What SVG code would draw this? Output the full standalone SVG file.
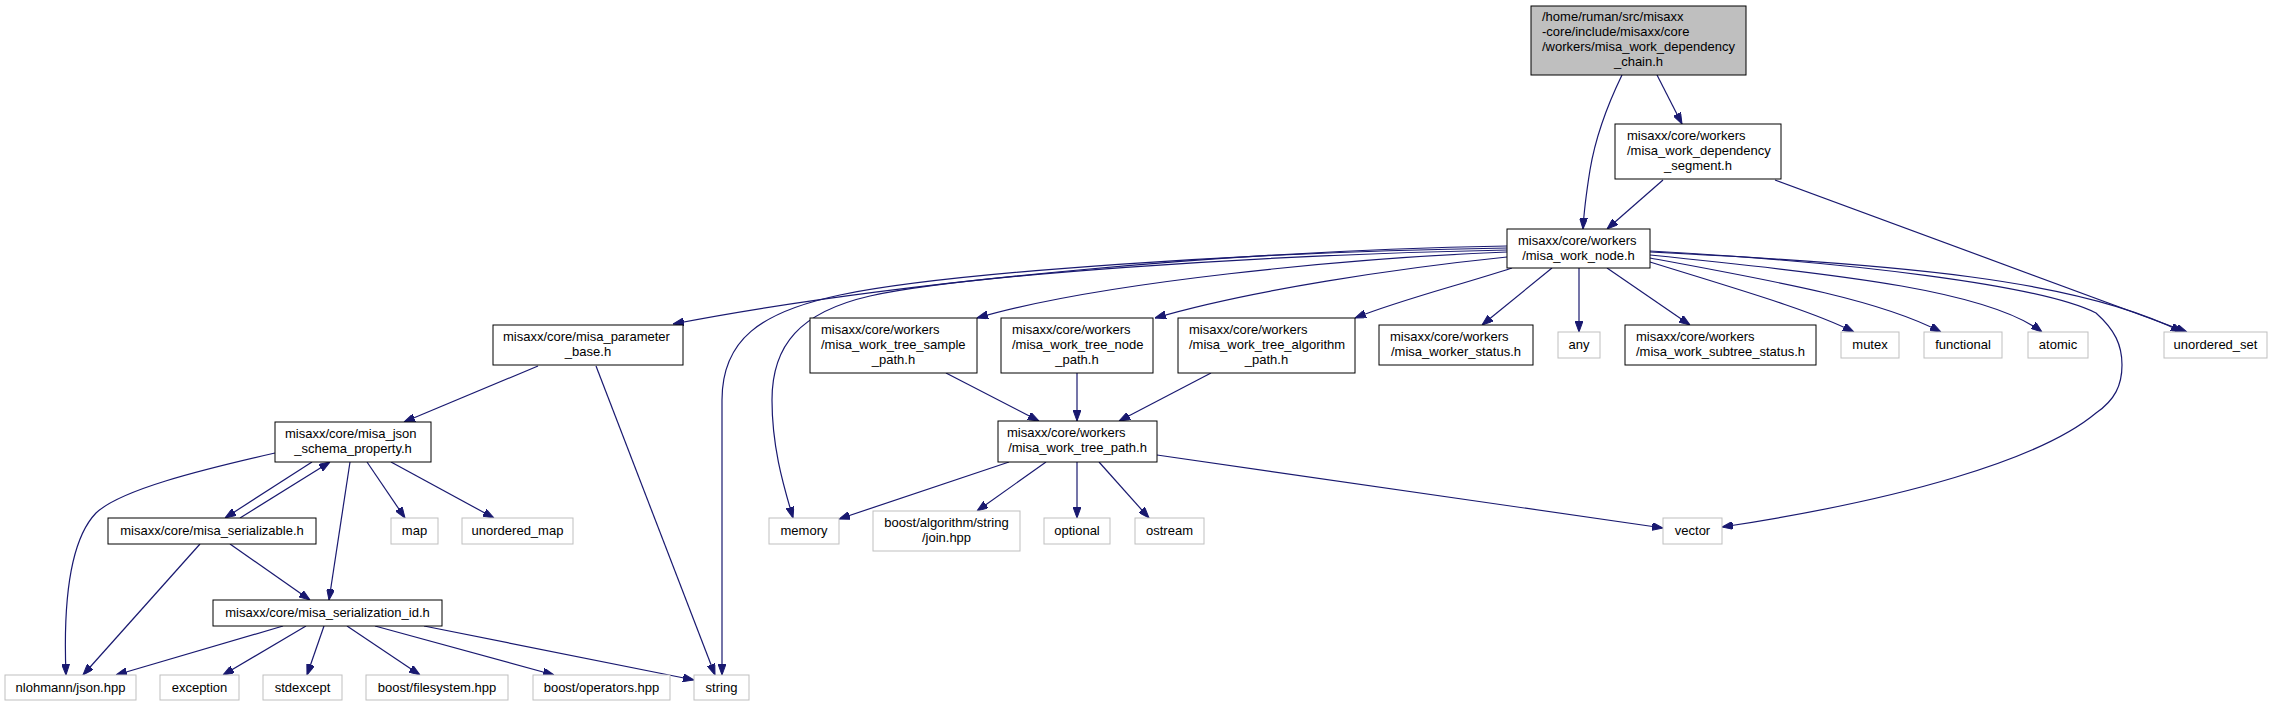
<svg xmlns="http://www.w3.org/2000/svg" width="2272" height="707" viewBox="0 0 2272 707">
<style>
text{font-family:"Liberation Sans",Arial,sans-serif;font-size:13px;fill:#000}
.c{text-anchor:middle}
.n rect{fill:#fff;stroke:#000;stroke-width:1}
.x rect{fill:#fff;stroke:#bfbfbf;stroke-width:1}
.m rect{fill:#bfbfbf;stroke:#000;stroke-width:1}
#edges path{fill:none;stroke:#191970;stroke-width:1.2;marker-end:url(#ah)}
</style>
<defs>
<marker id="ah" markerUnits="userSpaceOnUse" viewBox="0 0 11 8" refX="11" refY="4" markerWidth="11" markerHeight="8" orient="auto">
<path d="M0,0 L11,4 L0,8 z" fill="#191970" stroke="#191970"/>
</marker>
</defs>
<rect width="2272" height="707" fill="#fff"/>
<g id="edges">
<path d="M1622,75 C1605,110 1595,140 1590,170 C1586,195 1584,210 1583,229"/>
<path d="M1657,75 L1682,124"/>
<path d="M1663,180 L1607,229"/>
<path d="M1775,180 L2187,332"/>
<path d="M1507,246 C1250,250 900,280 673,324"/>
<path d="M1507,248 C1250,252 950,272 840,295 C760,312 722,340 722,400 L722,675"/>
<path d="M1507,250 C1250,255 960,276 870,296 C800,312 772,345 772,400 C772,450 785,490 793,518"/>
<path d="M1507,252 C1350,258 1100,282 977,318"/>
<path d="M1507,257 C1400,268 1250,290 1155,318"/>
<path d="M1512,268 C1460,285 1400,300 1355,318"/>
<path d="M1552,268 L1482,325"/>
<path d="M1579,268 L1579,332"/>
<path d="M1607,268 L1690,325"/>
<path d="M1650,262 C1740,290 1810,310 1854,332"/>
<path d="M1650,258 C1780,282 1880,300 1941,332"/>
<path d="M1650,255 C1850,275 1990,292 2042,332"/>
<path d="M1650,252 C1900,264 2080,280 2182,332"/>
<path d="M1650,251 C1850,262 2040,285 2096,313 C2115,330 2122,345 2122,365 C2122,385 2115,400 2096,413 C2040,460 1900,500 1722,527"/>
<path d="M946,373 L1039,421"/>
<path d="M1077,373 L1077,421"/>
<path d="M1211,373 L1119,421"/>
<path d="M1009,462 L839,519"/>
<path d="M1046,462 L977,511"/>
<path d="M1077,462 L1077,518"/>
<path d="M1099,462 L1149,518"/>
<path d="M1157,455 L1663,528"/>
<path d="M538,366 L404,422"/>
<path d="M596,366 L715,675"/>
<path d="M275,453 C200,470 120,490 96,513 C70,540 63,600 66,675"/>
<path d="M312,462 L225,518"/>
<path d="M240,518 L330,462"/>
<path d="M350,462 L329,600"/>
<path d="M367,462 L405,518"/>
<path d="M391,462 L494,518"/>
<path d="M200,544 L83,675"/>
<path d="M230,544 L310,600"/>
<path d="M283,626 L116,675"/>
<path d="M306,626 L223,675"/>
<path d="M324,626 L307,675"/>
<path d="M347,626 L420,675"/>
<path d="M375,626 L554,675"/>
<path d="M424,626 L694,680"/>
</g>
<g id="main" class="m"><rect x="1531" y="6" width="215" height="69"/>
<text x="1542" y="21">/home/ruman/src/misaxx</text><text x="1542" y="36">-core/include/misaxx/core</text><text x="1542" y="51">/workers/misa_work_dependency</text><text class="c" x="1638.5" y="66">_chain.h</text></g>
<g id="segment" class="n"><rect x="1615" y="124" width="166" height="55"/>
<text x="1627" y="140">misaxx/core/workers</text><text x="1627" y="155">/misa_work_dependency</text><text class="c" x="1698" y="170">_segment.h</text></g>
<g id="work_node" class="n"><rect x="1507" y="229" width="143" height="39"/>
<text x="1518" y="245">misaxx/core/workers</text><text class="c" x="1578.5" y="260">/misa_work_node.h</text></g>
<g id="parameter_base" class="n"><rect x="493" y="325" width="190" height="40"/>
<text x="503" y="341">misaxx/core/misa_parameter</text><text class="c" x="588" y="356">_base.h</text></g>
<g id="sample_path" class="n"><rect x="810" y="318" width="167" height="55"/>
<text x="821" y="334">misaxx/core/workers</text><text x="821" y="349">/misa_work_tree_sample</text><text class="c" x="893.5" y="364">_path.h</text></g>
<g id="tree_node_path" class="n"><rect x="1001" y="318" width="152" height="55"/>
<text x="1012" y="334">misaxx/core/workers</text><text x="1012" y="349">/misa_work_tree_node</text><text class="c" x="1077" y="364">_path.h</text></g>
<g id="algorithm_path" class="n"><rect x="1178" y="318" width="177" height="55"/>
<text x="1189" y="334">misaxx/core/workers</text><text x="1189" y="349">/misa_work_tree_algorithm</text><text class="c" x="1266.5" y="364">_path.h</text></g>
<g id="worker_status" class="n"><rect x="1379" y="325" width="154" height="40"/>
<text x="1390" y="341">misaxx/core/workers</text><text class="c" x="1456" y="356">/misa_worker_status.h</text></g>
<g id="any" class="x"><rect x="1558" y="332" width="42" height="26"/><text class="c" x="1579" y="349">any</text></g>
<g id="subtree_status" class="n"><rect x="1625" y="325" width="191" height="40"/>
<text x="1636" y="341">misaxx/core/workers</text><text class="c" x="1720.5" y="356">/misa_work_subtree_status.h</text></g>
<g id="mutex" class="x"><rect x="1841" y="332" width="58" height="26"/><text class="c" x="1870" y="349">mutex</text></g>
<g id="functional" class="x"><rect x="1924" y="332" width="78" height="26"/><text class="c" x="1963" y="349">functional</text></g>
<g id="atomic" class="x"><rect x="2028" y="332" width="60" height="26"/><text class="c" x="2058" y="349">atomic</text></g>
<g id="unordered_set" class="x"><rect x="2164" y="332" width="103" height="26"/><text class="c" x="2215.5" y="349">unordered_set</text></g>
<g id="json_schema_property" class="n"><rect x="275" y="422" width="156" height="40"/>
<text x="285" y="438">misaxx/core/misa_json</text><text class="c" x="353" y="453">_schema_property.h</text></g>
<g id="tree_path" class="n"><rect x="998" y="421" width="159" height="41"/>
<text x="1007" y="437">misaxx/core/workers</text><text class="c" x="1077.5" y="452">/misa_work_tree_path.h</text></g>
<g id="serializable" class="n"><rect x="108" y="518" width="208" height="26"/><text class="c" x="212" y="535">misaxx/core/misa_serializable.h</text></g>
<g id="map" class="x"><rect x="391" y="518" width="47" height="26"/><text class="c" x="414.5" y="535">map</text></g>
<g id="unordered_map" class="x"><rect x="462" y="518" width="111" height="26"/><text class="c" x="517.5" y="535">unordered_map</text></g>
<g id="memory" class="x"><rect x="769" y="518" width="70" height="26"/><text class="c" x="804" y="535">memory</text></g>
<g id="join" class="x"><rect x="873" y="511" width="147" height="40"/><text class="c" x="946.5" y="527">boost/algorithm/string</text><text class="c" x="946.5" y="542">/join.hpp</text></g>
<g id="optional" class="x"><rect x="1044" y="518" width="66" height="26"/><text class="c" x="1077" y="535">optional</text></g>
<g id="ostream" class="x"><rect x="1135" y="518" width="69" height="26"/><text class="c" x="1169.5" y="535">ostream</text></g>
<g id="vector" class="x"><rect x="1663" y="518" width="59" height="26"/><text class="c" x="1692.5" y="535">vector</text></g>
<g id="serialization_id" class="n"><rect x="213" y="600" width="229" height="26"/><text class="c" x="327.5" y="617">misaxx/core/misa_serialization_id.h</text></g>
<g id="nlohmann" class="x"><rect x="5" y="675" width="131" height="25"/><text class="c" x="70.5" y="692">nlohmann/json.hpp</text></g>
<g id="exception" class="x"><rect x="160" y="675" width="79" height="25"/><text class="c" x="199.5" y="692">exception</text></g>
<g id="stdexcept" class="x"><rect x="263" y="675" width="79" height="25"/><text class="c" x="302.5" y="692">stdexcept</text></g>
<g id="filesystem" class="x"><rect x="366" y="675" width="142" height="25"/><text class="c" x="437" y="692">boost/filesystem.hpp</text></g>
<g id="operators" class="x"><rect x="533" y="675" width="137" height="25"/><text class="c" x="601.5" y="692">boost/operators.hpp</text></g>
<g id="string" class="x"><rect x="694" y="675" width="55" height="25"/><text class="c" x="721.5" y="692">string</text></g>
</svg>
